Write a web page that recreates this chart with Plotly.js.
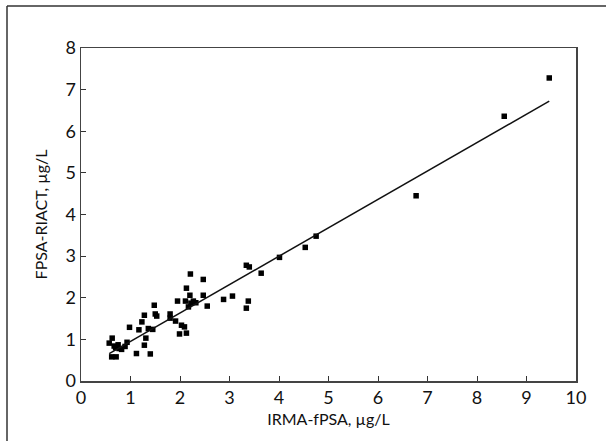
<!DOCTYPE html>
<html>
<head>
<meta charset="utf-8">
<script src="https://cdn.plot.ly/plotly-3.0.1.min.js"></script>
<style>
html,body{margin:0;padding:0;background:#fff;}
#chart{width:606px;height:441px;}
</style>
</head>
<body>
<div id="chart"></div>
<script>
// IRMA-fPSA (x) vs FPSA-RIACT (y), µg/L
const irmaX = [0.63,0.57,0.67,0.75,0.77,0.62,0.71,0.89,0.93,0.98,1.12,1.17,1.23,1.28,1.28,1.31,1.36,1.40,1.45,1.48,1.50,1.53,1.80,1.80,1.91,1.95,1.99,2.03,2.09,2.13,2.11,2.13,2.21,2.20,2.17,2.22,2.27,2.32,2.47,2.47,2.55,2.88,3.06,3.34,3.40,3.64,3.38,3.34,4.01,4.53,4.75,6.77,8.55,9.46,0.70,0.82];
const riactY = [1.03,0.91,0.84,0.87,0.78,0.58,0.58,0.83,0.93,1.29,0.66,1.23,1.42,1.58,0.86,1.03,1.26,0.65,1.24,1.82,1.61,1.56,1.61,1.51,1.44,1.92,1.13,1.34,1.30,1.15,1.92,2.23,2.57,2.06,1.78,1.87,1.92,1.88,2.44,2.06,1.80,1.96,2.04,2.78,2.74,2.59,1.92,1.75,2.97,3.21,3.48,4.45,6.36,7.28,0.80,0.76];
// regression line end points (x), fitted line y = a + b*x
const fitX = [0.57, 9.46];
const fitA = 0.27, fitB = 0.682;
const fitY = fitX.map(v => fitA + fitB * v);

const xTicks = [0,1,2,3,4,5,6,7,8,9,10];
const yTicks = [0,1,2,3,4,5,6,7,8];

const font = "Lato, 'Open Sans', sans-serif";

const traces = [
  {x: irmaX, y: riactY, type: 'scatter', mode: 'markers',
   marker: {symbol: 'square', size: 5.5, color: '#000'}, hoverinfo: 'x+y'},
  {x: fitX, y: fitY, type: 'scatter', mode: 'lines',
   line: {color: '#111', width: 1.5}, hoverinfo: 'skip'}
];

const layout = {
  width: 606, height: 441,
  margin: {l: 81, r: 30, t: 48, b: 60, pad: 0},
  paper_bgcolor: '#fff', plot_bgcolor: '#fff',
  showlegend: false,
  font: {family: font, color: '#111', size: 18},
  xaxis: {
    range: [0, 10], tickvals: xTicks, ticktext: xTicks.map(String),
    ticks: 'inside', ticklen: 5, tickcolor: '#333', tickwidth: 1,
    showline: true, linecolor: '#444', linewidth: 1.5, mirror: true,
    showgrid: false, zeroline: false,
    tickfont: {family: font, size: 18, color: '#111'},
    title: {text: 'IRMA-fPSA, µg/L', font: {family: font, size: 16, color: '#111'}, standoff: 6}
  },
  yaxis: {
    range: [0, 8], tickvals: yTicks, ticktext: yTicks.map(String),
    ticks: 'inside', ticklen: 5, tickcolor: '#333', tickwidth: 1,
    showline: true, linecolor: '#444', linewidth: 1.5, mirror: true,
    showgrid: false, zeroline: false,
    tickfont: {family: font, size: 18, color: '#111'},
    title: {text: 'FPSA-RIACT, µg/L', font: {family: font, size: 16, color: '#111'}, standoff: 14}
  },
  shapes: [
    {type: 'line', xref: 'paper', yref: 'paper', x0: (7-81)/495, x1: (7-81)/495, y0: (381-6)/333, y1: -1, line: {color: '#333', width: 1.5}},
    {type: 'line', xref: 'paper', yref: 'paper', x0: (7-81)/495, x1: 2, y0: (381-6)/333, y1: (381-6)/333, line: {color: '#333', width: 1.5}}
  ]
};

Plotly.newPlot('chart', traces, layout, {displayModeBar: false, staticPlot: true});
</script>
</body>
</html>
